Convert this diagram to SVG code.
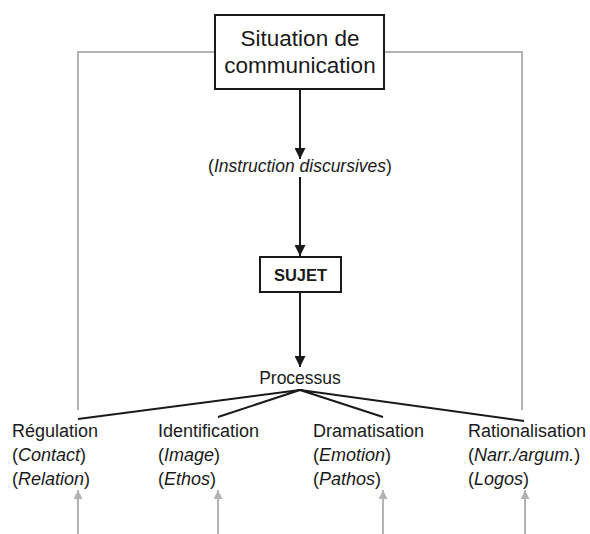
<svg xmlns="http://www.w3.org/2000/svg" width="590" height="534" viewBox="0 0 590 534">
<style>
text{font-family:"Liberation Sans",Arial,sans-serif;fill:#1a1a1a}
.box{fill:#fff;stroke:#1a1a1a;stroke-width:2}
.blk{stroke:#1a1a1a;stroke-width:2;fill:none}
.gry{stroke:#b3b3b3;stroke-width:2;fill:none}
.lbl{font-size:18px}
.mid{font-size:17.5px;text-anchor:middle}
i,.it{font-style:italic}
</style>
<defs>
<marker id="ab" viewBox="0 0 10 10" refX="10" refY="5" markerWidth="11" markerHeight="11" markerUnits="userSpaceOnUse" orient="auto"><path d="M0,0L10,5L0,10Z" fill="#1a1a1a"/></marker>
<marker id="ag" viewBox="0 0 10 10" refX="10" refY="5" markerWidth="9" markerHeight="9" markerUnits="userSpaceOnUse" orient="auto"><path d="M0,0L10,5L0,10Z" fill="#b3b3b3"/></marker>
</defs>
<g id="connectors">
<path class="gry" d="M215,52H78V410"/>
<path class="gry" d="M384,52H522V410"/>
<line class="blk" x1="300" y1="89" x2="300" y2="159" marker-end="url(#ab)"/>
<line class="blk" x1="300" y1="177" x2="300" y2="256" marker-end="url(#ab)"/>
<line class="blk" x1="300" y1="292" x2="300" y2="367" marker-end="url(#ab)"/>
<path class="blk" d="M78,419L300,390L218,417M300,390L383,417M300,390L524,421"/>
<line class="gry" x1="78" y1="534" x2="78" y2="490" marker-end="url(#ag)"/>
<line class="gry" x1="218" y1="534" x2="218" y2="490" marker-end="url(#ag)"/>
<line class="gry" x1="383" y1="534" x2="383" y2="490" marker-end="url(#ag)"/>
<line class="gry" x1="525" y1="534" x2="525" y2="490" marker-end="url(#ag)"/>
</g>
<g id="situation">
<rect class="box" x="215" y="15" width="169" height="74"/>
<text x="300" y="46" font-size="22.5" text-anchor="middle">Situation de</text>
<text x="300" y="73" font-size="22.5" text-anchor="middle">communication</text>
</g>
<g id="instruction">
<text class="mid" x="300" y="172">(<tspan class="it">Instruction discursives</tspan>)</text>
</g>
<g id="sujet">
<rect class="box" x="260" y="257" width="81" height="35"/>
<text x="300.5" y="281" font-size="16.5" font-weight="bold" text-anchor="middle">SUJET</text>
</g>
<g id="processus">
<text class="mid" x="300" y="384">Processus</text>
</g>
<g id="regulation">
<text class="lbl" x="12" y="437">Régulation</text>
<text class="lbl" x="12" y="461">(<tspan class="it">Contact</tspan>)</text>
<text class="lbl" x="12" y="485">(<tspan class="it">Relation</tspan>)</text>
</g>
<g id="identification">
<text class="lbl" x="158" y="437">Identification</text>
<text class="lbl" x="158" y="461">(<tspan class="it">Image</tspan>)</text>
<text class="lbl" x="158" y="485">(<tspan class="it">Ethos</tspan>)</text>
</g>
<g id="dramatisation">
<text class="lbl" x="313" y="437">Dramatisation</text>
<text class="lbl" x="313" y="461">(<tspan class="it">Emotion</tspan>)</text>
<text class="lbl" x="313" y="485">(<tspan class="it">Pathos</tspan>)</text>
</g>
<g id="rationalisation">
<text class="lbl" x="468" y="437">Rationalisation</text>
<text class="lbl" x="468" y="461">(<tspan class="it">Narr./argum.</tspan>)</text>
<text class="lbl" x="468" y="485">(<tspan class="it">Logos</tspan>)</text>
</g>
</svg>
